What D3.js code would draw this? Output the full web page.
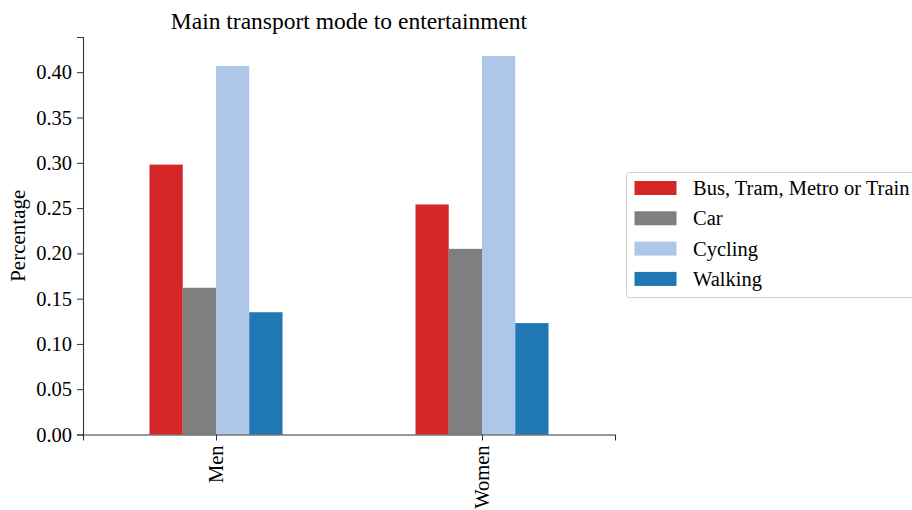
<!DOCTYPE html>
<html><head><meta charset="utf-8">
<script src="https://cdn.jsdelivr.net/npm/d3@7"></script>
<style>body{margin:0;background:#fff}svg{display:block}text{font-family:"Liberation Serif","Times New Roman",serif;fill:#000}</style>
</head><body><svg id="c" width="912" height="510"></svg>
<script>
const categories = ["Men", "Women"];
const seriesNames = ["Bus, Tram, Metro or Train", "Car", "Cycling", "Walking"];
const busValues = [0.298, 0.254];
const carValues = [0.162, 0.205];
const cyclingValues = [0.407, 0.418];
const walkingValues = [0.135, 0.123];
const yTicks = [0, 0.05, 0.10, 0.15, 0.20, 0.25, 0.30, 0.35, 0.40];
const colors = ["#d62728", "#7f7f7f", "#aec7e8", "#1f77b4"];
const series = [busValues, carValues, cyclingValues, walkingValues];

(function () {
const svg = d3.select("#c");
const mLeft = 83, mRight = 615, mTop = 37, mBottom = 434.5;
const maxV = d3.max(series.flat()) * 1.05;
const y = d3.scaleLinear().domain([0, maxV]).range([mBottom, mTop]);
const x = d3.scaleLinear().domain([-0.5, categories.length - 0.5]).range([mLeft, mRight]);
const barW = 0.5 / series.length;

const g = svg.append("g");
series.forEach((vals, si) => {
  g.selectAll(null).data(vals).enter().append("rect")
    .attr("x", (d, i) => x(i - 0.25 + si * barW))
    .attr("width", x(barW) - x(0))
    .attr("y", d => y(d))
    .attr("height", d => y(0) - y(d))
    .attr("fill", colors[si]);
});

const axisColor = "#333";
const ya = svg.append("g").attr("transform", `translate(${mLeft},0)`)
  .call(d3.axisLeft(y).tickValues(yTicks).tickFormat(d3.format(".2f")).tickSizeOuter(0).tickSize(6).tickPadding(5));
ya.attr("font-family", null);
ya.select(".domain").attr("stroke", axisColor).attr("stroke-width", 1.1);
ya.selectAll(".tick line").attr("stroke", axisColor);
ya.selectAll(".tick text").style("font-size", "20.5px").attr("fill", "#000");

const xa = svg.append("g").attr("transform", `translate(0,${mBottom})`)
  .call(d3.axisBottom(x).tickValues(categories.map((c, i) => i)).tickFormat(i => categories[i]).tickSizeOuter(0).tickSize(6));
xa.attr("font-family", null);
xa.select(".domain").attr("stroke", axisColor).attr("stroke-width", 1.1);
xa.selectAll(".tick line").attr("stroke", axisColor);
xa.selectAll(".tick text").style("font-size", "20.5px").attr("fill", "#000")
  .attr("text-anchor", "end").attr("transform", "rotate(-90)")
  .attr("x", -11).attr("y", 0).attr("dy", "0.33em");

svg.append("text").attr("x", (mLeft + mRight) / 2).attr("y", 29).attr("text-anchor", "middle")
  .style("font-size", "23.5px").text("Main transport mode to entertainment");
svg.append("text").attr("transform", `translate(25,${(mTop + mBottom) / 2}) rotate(-90)`)
  .attr("text-anchor", "middle").style("font-size", "21px").text("Percentage");

const lg = svg.append("g");
lg.append("rect").attr("x", 626.5).attr("y", 172.5).attr("width", 320).attr("height", 125)
  .attr("rx", 3).attr("fill", "#fff").attr("stroke", "#d0d0d0").attr("stroke-width", 1);
seriesNames.forEach((n, i) => {
  const cy = 188 + i * 30.3;
  lg.append("rect").attr("x", 634.5).attr("y", cy - 7).attr("width", 42).attr("height", 14).attr("fill", colors[i]);
  lg.append("text").attr("x", 693).attr("y", cy).attr("dy", "0.35em").style("font-size", "20.5px").text(n);
});
})();
</script></body></html>
